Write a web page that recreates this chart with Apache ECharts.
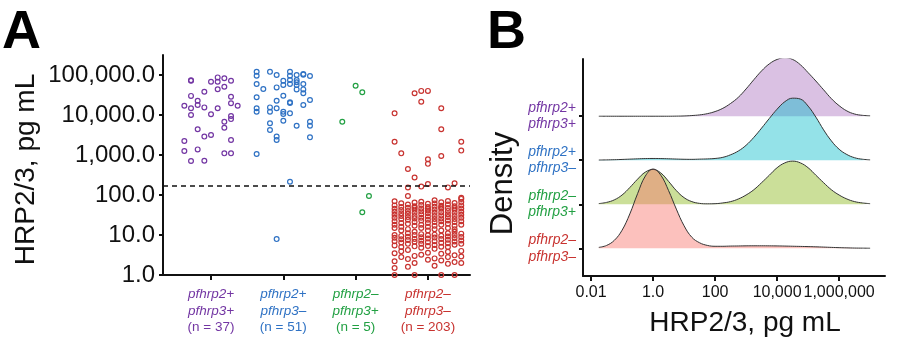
<!DOCTYPE html>
<html>
<head>
<meta charset="utf-8">
<script src="https://cdn.jsdelivr.net/npm/echarts@6/dist/echarts.min.js"></script>
<style>
  html, body { margin: 0; padding: 0; background: #fff; }
  #chart { width: 900px; height: 344px; }
</style>
</head>
<body>
<div id="chart"></div>
<script>
// ---- Genotype groups ----
const groupLine1 = ['pfhrp2+', 'pfhrp2+', 'pfhrp2\u2013', 'pfhrp2\u2013'];
const groupLine2 = ['pfhrp3+', 'pfhrp3\u2013', 'pfhrp3+', 'pfhrp3\u2013'];
const groupN = [37, 51, 5, 203];
const groupColors = ['#7336a3', '#2f72c4', '#22a043', '#c83330'];

// ---- Panel A: HRP2/3 concentration (pg/mL), listed by horizontal jitter slot ----
const posPosBySlot = [
  [17000, 2240, 1260],
  [72000, 74000, 30000, 14700, 10000, 710],
  [22700, 17800, 4400, 1380],
  [38000, 15500, 2880, 720],
  [68000, 10400, 3160],
  [87000, 68000, 44000, 14700],
  [83000, 51000, 6800, 4800, 1100],
  [72000, 28700, 19600, 9400, 7900, 2370, 1100],
  [17000]
];
const posNegBySlot = [
  [120000, 96000, 59600, 27700, 14700, 12100, 1060],
  [44700],
  [120000, 15500, 12100, 6200, 4200],
  [100000, 49000, 22700, 14700, 2880, 2370, 7.9],
  [72000, 56000, 30400, 12100, 10600, 7200],
  [120000, 96000, 75000, 59600, 20800, 20000, 11000, 215],
  [100000, 75000, 66000, 56000, 43700, 5400],
  [106000, 102000, 59600, 43700, 35000, 17800],
  [94000, 23700, 6800, 5400, 2760]
];
const negPosBySlot = [
  [6800],
  [],
  [54000],
  [37000, 37],
  [94]
];
const negNegBySlot = [
  [11000, 2150, 70, 55, 45, 38, 32, 27, 22, 18, 15, 10, 8.5, 7, 5.5, 3.5, 2.2, 1.5, 1.0],
  [1100, 62, 50, 42, 35, 30, 25, 20, 16, 13, 9.5, 7.8, 6.5, 5, 3.9, 2.8],
  [445, 155, 94, 58, 48, 40, 34, 28, 24, 19, 14, 11, 9, 7.5, 6, 4.2, 2.5, 1.6],
  [35000, 275, 65, 52, 48, 43, 36, 30, 26, 21, 17, 12, 10, 8, 6.8, 5.2, 3, 2, 1.0],
  [40000, 21500, 162, 68, 56, 46, 39, 33, 27, 23, 18, 15, 10.5, 8.8, 7.2, 6, 4.8, 3.2],
  [40000, 780, 600, 188, 60, 50, 45, 41, 35, 29, 24, 20, 16, 13, 9.8, 8.2, 6.6, 5.3, 3.6, 2.4],
  [74, 61, 51, 43, 36, 30, 25, 21, 17, 14, 10.2, 8.6, 7, 5.6, 4.5, 2.6, 1.7],
  [14700, 4400, 940, 66, 54, 49, 45, 37, 31, 26, 22, 18, 13, 9.6, 7.9, 6.4, 5.1, 3.4, 2.3, 1.0],
  [155, 71, 58, 47, 40, 33, 28, 23, 19, 15, 11, 9.2, 7.6, 6.2, 5, 3.8, 2.8, 1.9],
  [196, 63, 52, 47, 43, 36, 30, 25, 21, 17, 14, 12, 10, 8.4, 6.9, 5.7, 3.1, 2.1, 1.0],
  [2150, 1290, 85, 80, 67, 55, 46, 38, 32, 27, 22, 18, 10.8, 8.9, 7.3, 6, 4, 2.9, 2]
];
const cutoff = 168; // positivity threshold, pg/mL
const yTicksA = [1, 10, 100, 1000, 10000, 100000];
const yTickLabelsA = ['1.0', '10.0', '100.0', '1,000.0', '10,000.0', '100,000.0'];

// ---- Panel B: ridge densities sampled at log10(HRP2/3) ----
const densityGridLog = [-1.75, -1.5, -1.25, -1.0, -0.75, -0.5, -0.25, 0, 0.25, 0.5, 0.75, 1.0,
  1.25, 1.5, 1.75, 2.0, 2.25, 2.5, 2.75, 3.0, 3.25, 3.5, 3.75, 4.0,
  4.25, 4.5, 4.75, 5.0, 5.25, 5.5, 5.75, 6.0, 6.25, 6.5, 6.75, 7.0];
const densityPosPos = [0, 0, 0, 0, 0, 0, 0, 0, 0, 0, 0.002, 0.006,
  0.015, 0.03, 0.058, 0.106, 0.18, 0.29, 0.43, 0.62, 0.83, 1.03, 1.19, 1.29,
  1.33, 1.29, 1.17, 0.99, 0.80, 0.60, 0.40, 0.24, 0.12, 0.05, 0.02, 0.01];
const densityPosNeg = [0.005, 0.008, 0.012, 0.018, 0.025, 0.032, 0.038, 0.04, 0.038, 0.033, 0.027, 0.022,
  0.02, 0.025, 0.03, 0.04, 0.066, 0.124, 0.21, 0.34, 0.52, 0.73, 0.95, 1.16,
  1.33, 1.41, 1.39, 1.23, 0.98, 0.69, 0.44, 0.25, 0.13, 0.057, 0.023, 0.009];
const densityNegPos = [0.015, 0.042, 0.10, 0.21, 0.38, 0.57, 0.73, 0.79, 0.71, 0.52, 0.31, 0.15,
  0.06, 0.02, 0.01, 0.013, 0.03, 0.06, 0.12, 0.21, 0.33, 0.49, 0.66, 0.83,
  0.94, 0.98, 0.94, 0.83, 0.66, 0.49, 0.33, 0.21, 0.12, 0.06, 0.03, 0.013];
const densityNegNeg = [0.02, 0.064, 0.18, 0.41, 0.78, 1.24, 1.64, 1.80, 1.66, 1.31, 0.89, 0.51,
  0.25, 0.125, 0.065, 0.045, 0.045, 0.05, 0.052, 0.055, 0.056, 0.056, 0.055, 0.053,
  0.05, 0.046, 0.042, 0.038, 0.033, 0.027, 0.02, 0.014, 0.009, 0.005, 0.003, 0.001];
const xTicksB = [0.01, 1, 100, 10000, 1000000];
const xTickLabelsB = ['0.01', '1.0', '100', '10,000', '1,000,000'];
const ridgeFills = ['rgba(172,118,194,0.45)', 'rgba(0,185,200,0.42)', 'rgba(124,174,0,0.40)', 'rgba(248,118,109,0.45)'];

// ---------------------------------------------------------------
const FONT = '"Liberation Sans", Arial, sans-serif';
const slotWidth = 0.0922; // horizontal spacing of jitter slots, category units

function stripData(bySlot, cat) {
  const out = [];
  const mid = (bySlot.length - 1) / 2;
  bySlot.forEach((vals, s) => {
    vals.forEach(v => out.push([cat + (s - mid) * slotWidth, v]));
  });
  return out;
}

function labelFor(ticks, labels, value) {
  for (let i = 0; i < ticks.length; i++) {
    if (Math.abs(Math.log10(ticks[i]) - Math.log10(value)) < 1e-6) return labels[i];
  }
  return '';
}

const richA = {};
const richB = {};
groupColors.forEach((c, i) => {
  richA['p' + i] = { color: c, fontStyle: 'italic', fontSize: 13.5, lineHeight: 16.7, fontFamily: FONT, align: 'center' };
  richA['n' + i] = { color: c, fontSize: 13.5, lineHeight: 16.7, fontFamily: FONT, align: 'center' };
  richB['p' + i] = { color: c, fontStyle: 'italic', fontSize: 14, lineHeight: 16.7, fontFamily: FONT, align: 'right' };
});

const stripSets = [posPosBySlot, posNegBySlot, negPosBySlot, negNegBySlot];
const scatterSeries = stripSets.map((set, i) => ({
  type: 'scatter',
  xAxisIndex: 0, yAxisIndex: 0,
  data: stripData(set, i + 1),
  symbol: 'circle',
  symbolSize: 4.8,
  itemStyle: { color: 'rgba(0,0,0,0)', borderColor: groupColors[i], borderWidth: 1.2, opacity: 1 },
  z: 3,
  markLine: i === 0 ? {
    silent: true, symbol: 'none', label: { show: false },
    lineStyle: { color: '#111', type: [5, 4], width: 1.5 },
    data: [{ yAxis: cutoff }]
  } : undefined
}));

const densitySets = [densityPosPos, densityPosNeg, densityNegPos, densityNegNeg];
const ridgeBase = [4, 3, 2, 1];
const ridgeSeries = densitySets.map((dens, i) => ({
  type: 'line',
  xAxisIndex: 1, yAxisIndex: 1,
  data: dens.map((h, k) => [Math.pow(10, densityGridLog[k]), ridgeBase[i] + h]),
  smooth: 0.4,
  showSymbol: false,
  lineStyle: { color: '#333', width: 1 },
  areaStyle: { color: ridgeFills[i], opacity: 1, origin: ridgeBase[i] },
  z: 2 + i
}));

const chart = echarts.init(document.getElementById('chart'), null, { renderer: 'canvas' });
chart.setOption({
  animation: false,
  backgroundColor: '#fff',
  grid: [
    { left: 163, right: 430, top: 55, bottom: 69 },
    { left: 583, right: 15, top: 59, bottom: 68 }
  ],
  xAxis: [
    {
      gridIndex: 0, type: 'value', min: 0.336, max: 4.582,
      axisLine: { onZero: false, lineStyle: { color: '#111', width: 2 } },
      axisTick: { customValues: [1, 2, 3, 4], length: 5, lineStyle: { color: '#111', width: 2 } },
      axisLabel: {
        customValues: [1, 2, 3, 4], margin: 11, hideOverlap: false,
        formatter: v => {
          const i = Math.round(v) - 1;
          return `{p${i}|${groupLine1[i]}}\n{p${i}|${groupLine2[i]}}\n{n${i}|(n = ${groupN[i]})}`;
        },
        rich: richA
      },
      splitLine: { show: false }
    },
    {
      gridIndex: 1, type: 'log', logBase: 10, min: Math.pow(10, -2.26), max: Math.pow(10, 7.48),
      axisLine: { onZero: false, lineStyle: { color: '#111', width: 2 } },
      axisTick: { customValues: xTicksB, length: 5, lineStyle: { color: '#111', width: 2 } },
      axisLabel: {
        customValues: xTicksB, margin: 9, color: '#111', fontSize: 16, fontFamily: FONT,
        hideOverlap: false, interval: 0, showMinLabel: true, showMaxLabel: true,
        formatter: v => labelFor(xTicksB, xTickLabelsB, v)
      },
      splitLine: { show: false }, minorTick: { show: false }
    }
  ],
  yAxis: [
    {
      gridIndex: 0, type: 'log', logBase: 10, min: 1, max: Math.pow(10, 5.5),
      axisLine: { show: true, onZero: false, lineStyle: { color: '#111', width: 2 } },
      axisTick: { show: true, customValues: yTicksA, length: 4, lineStyle: { color: '#111', width: 2 } },
      axisLabel: {
        customValues: yTicksA, margin: 8, color: '#111', fontSize: 24, fontFamily: FONT, hideOverlap: false,
        formatter: v => labelFor(yTicksA, yTickLabelsA, v)
      },
      splitLine: { show: false }, minorTick: { show: false }
    },
    {
      gridIndex: 1, type: 'value', min: 0.37, max: 5.30,
      axisLine: { show: true, onZero: false, lineStyle: { color: '#111', width: 2 } },
      axisTick: { show: true, customValues: [1, 2, 3, 4], length: 4, lineStyle: { color: '#111', width: 2 } },
      axisLabel: {
        customValues: [1, 2, 3, 4], margin: 7, hideOverlap: false,
        formatter: v => {
          const i = 4 - Math.round(v);
          return `{p${i}|${groupLine1[i]}}\n{p${i}|${groupLine2[i]}}`;
        },
        rich: richB
      },
      splitLine: { show: false }
    }
  ],
  series: ridgeSeries.concat(scatterSeries),
  graphic: [
    { type: 'text', left: 2, top: 6, style: { text: 'A', font: `bold 54px ${FONT}`, fill: '#000' } },
    { type: 'text', left: 487, top: 6, style: { text: 'B', font: `bold 54px ${FONT}`, fill: '#000' } },
    {
      type: 'text', x: 26, y: 169.5, rotation: Math.PI / 2,
      style: { text: 'HRP2/3, pg mL', font: `28px ${FONT}`, fill: '#111', align: 'center', verticalAlign: 'middle' }
    },
    {
      type: 'text', x: 503, y: 183.5, rotation: Math.PI / 2,
      style: { text: 'Density', font: `31px ${FONT}`, fill: '#111', align: 'center', verticalAlign: 'middle' }
    },
    {
      type: 'text', x: 745, y: 323,
      style: { text: 'HRP2/3, pg mL', font: `28px ${FONT}`, fill: '#111', align: 'center', verticalAlign: 'middle' }
    }
  ]
});
</script>
</body>
</html>
